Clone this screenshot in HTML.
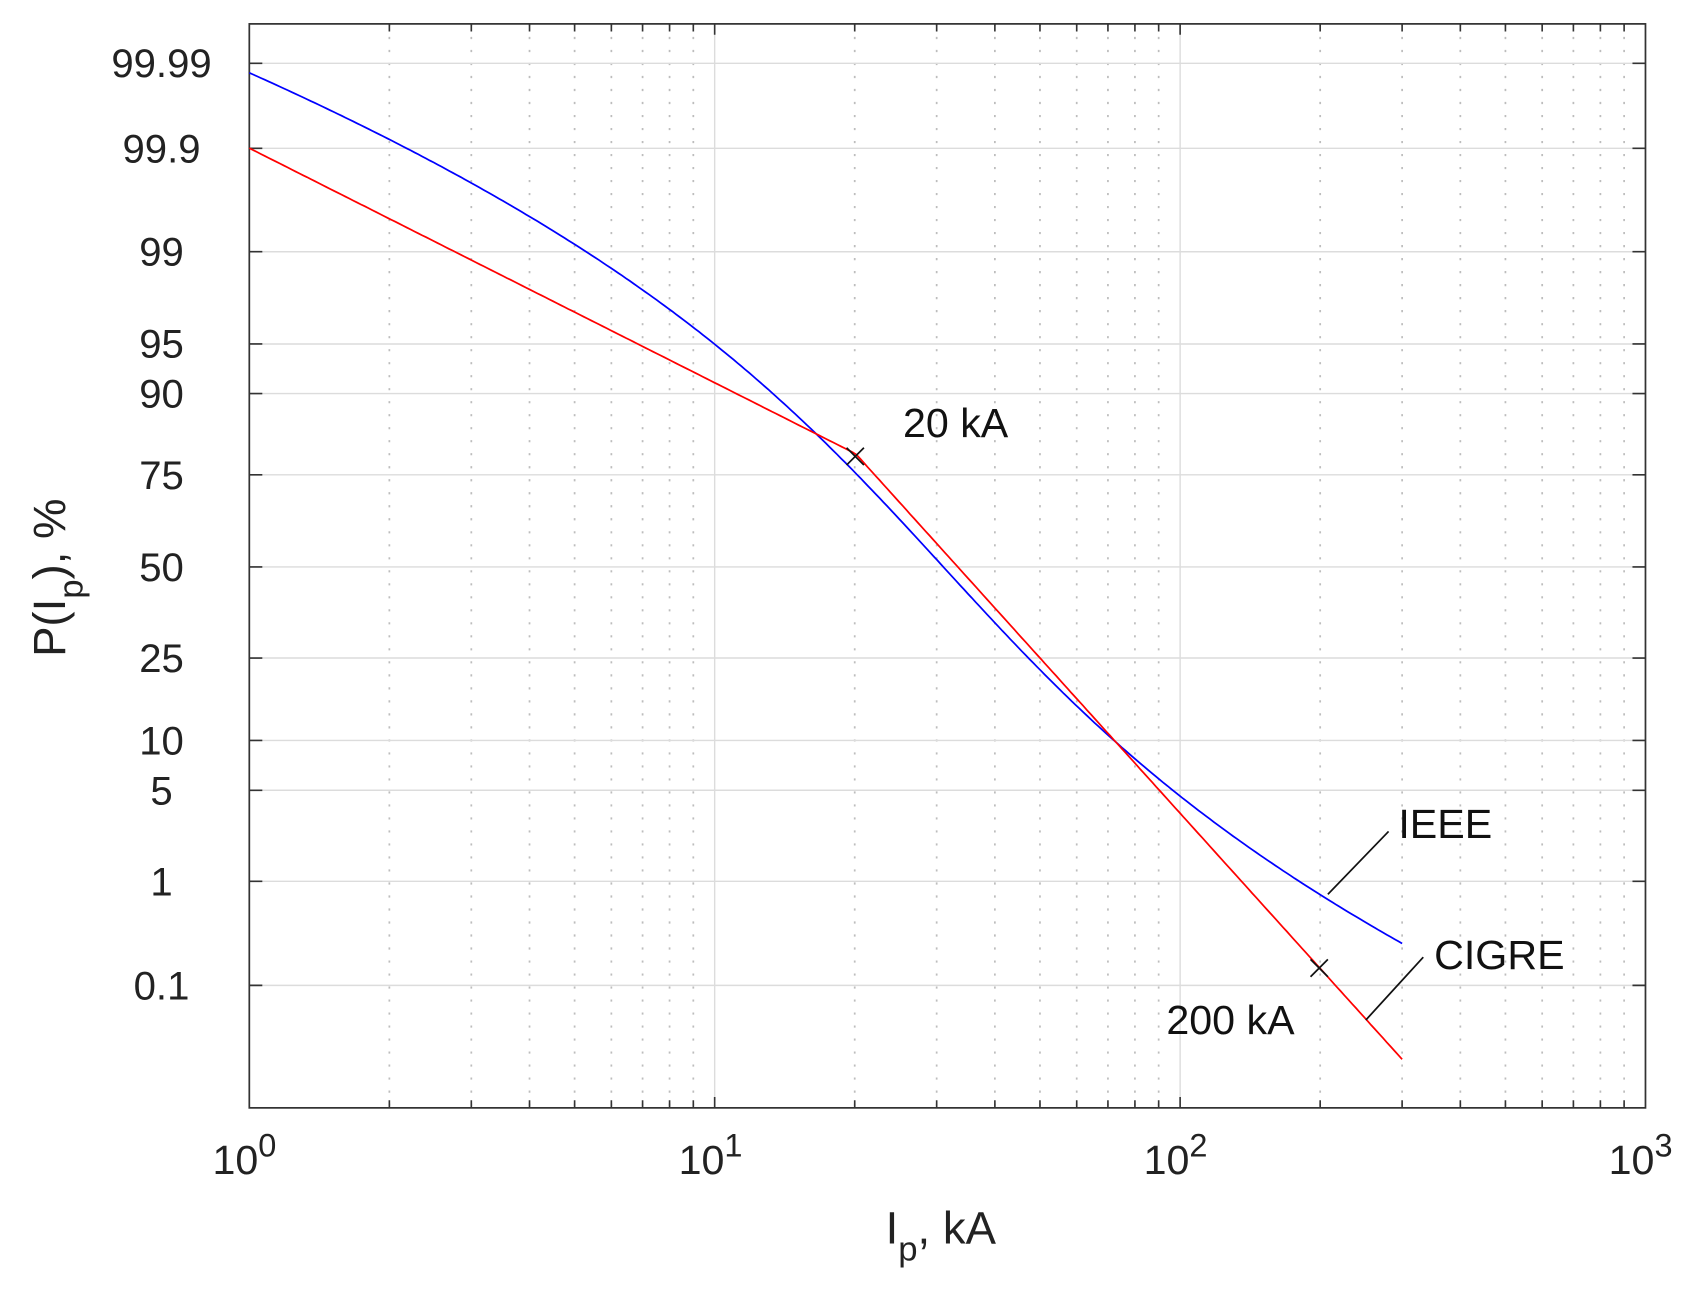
<!DOCTYPE html>
<html><head><meta charset="utf-8"><style>html,body{margin:0;padding:0;background:#fff}svg{display:block}</style></head>
<body>
<svg width="1700" height="1295" viewBox="0 0 1568.3 1194.6" xmlns="http://www.w3.org/2000/svg" font-family="Liberation Sans, sans-serif">
<rect width="1568.3" height="1194.6" fill="#fff"/>
<g stroke="#bdbdbd" stroke-width="1.6" stroke-dasharray="2 10">
<path d="M359.2 22V1022M434.8 22V1022M488.5 22V1022M530.1 22V1022M564 22V1022M592.8 22V1022M617.7 22V1022M639.6 22V1022
M788.5 22V1022M864.1 22V1022M917.8 22V1022M959.4 22V1022M993.3 22V1022M1022.1 22V1022M1047 22V1022M1068.9 22V1022
M1217.9 22V1022M1293.5 22V1022M1347.2 22V1022M1388.8 22V1022M1422.7 22V1022M1451.5 22V1022M1476.4 22V1022M1498.3 22V1022"/>
</g>
<g stroke="#dcdcdc" stroke-width="1.3">
<path d="M659.3 22V1022M1088.7 22V1022"/>
<path d="M230 58.4H1518M230 136.8H1518M230 232.2H1518M230 317.3H1518M230 363H1518M230 438H1518M230 523H1518M230 607H1518M230 683H1518M230 729H1518M230 813H1518M230 909H1518"/>
</g>
<g stroke="#333" stroke-width="1.5">
<path d="M359.2 1022v-7M434.8 1022v-7M488.5 1022v-7M530.1 1022v-7M564 1022v-7M592.8 1022v-7M617.7 1022v-7M639.6 1022v-7M659.3 1022v-10
M788.5 1022v-7M864.1 1022v-7M917.8 1022v-7M959.4 1022v-7M993.3 1022v-7M1022.1 1022v-7M1047 1022v-7M1068.9 1022v-7M1088.7 1022v-10
M1217.9 1022v-7M1293.5 1022v-7M1347.2 1022v-7M1388.8 1022v-7M1422.7 1022v-7M1451.5 1022v-7M1476.4 1022v-7M1498.3 1022v-7"/>
<path d="M359.2 22v7M434.8 22v7M488.5 22v7M530.1 22v7M564 22v7M592.8 22v7M617.7 22v7M639.6 22v7M659.3 22v10
M788.5 22v7M864.1 22v7M917.8 22v7M959.4 22v7M993.3 22v7M1022.1 22v7M1047 22v7M1068.9 22v7M1088.7 22v10
M1217.9 22v7M1293.5 22v7M1347.2 22v7M1388.8 22v7M1422.7 22v7M1451.5 22v7M1476.4 22v7M1498.3 22v7"/>
<path d="M230 58.4h12M230 136.8h12M230 232.2h12M230 317.3h12M230 363h12M230 438h12M230 523h12M230 607h12M230 683h12M230 729h12M230 813h12M230 909h12"/>
<path d="M1518 58.4h-12M1518 136.8h-12M1518 232.2h-12M1518 317.3h-12M1518 363h-12M1518 438h-12M1518 523h-12M1518 607h-12M1518 683h-12M1518 729h-12M1518 813h-12M1518 909h-12"/>
</g>
<rect x="230" y="22" width="1288" height="1000" fill="none" stroke="#333" stroke-width="1.6"/>
<polyline id="blue" fill="none" stroke="#0000ff" stroke-width="1.6" points="230,68 1293,869"/>
<polyline id="red" fill="none" stroke="#ff0000" stroke-width="1.6" points="230,136.8 788,418 1293,976"/>
<g stroke="#111" stroke-width="1.6" fill="none">
<path d="M781 413l16 16M797 413l-16 16"/>
<path d="M1209 885l16 16M1225 885l-16 16"/>
<path d="M1225 825L1281 767"/>
<path d="M1260 941L1313 883"/>
</g>
<g font-size="38" fill="#111">
<text x="833" y="403">20 kA</text>
<text x="1076" y="954">200 kA</text>
<text x="1290" y="773">IEEE</text>
<text x="1323" y="894">CIGRE</text>
</g>
<g font-size="37" fill="#222" text-anchor="middle">
<text x="149" y="71">99.99</text>
<text x="149" y="150">99.9</text>
<text x="149" y="245">99</text>
<text x="149" y="330">95</text>
<text x="149" y="376">90</text>
<text x="149" y="451">75</text>
<text x="149" y="536">50</text>
<text x="149" y="620">25</text>
<text x="149" y="696">10</text>
<text x="149" y="742">5</text>
<text x="149" y="826">1</text>
<text x="149" y="922">0.1</text>
</g>
<g font-size="38" fill="#222">
<text x="196" y="1083">10<tspan font-size="30" dy="-16">0</tspan></text>
<text x="626" y="1083">10<tspan font-size="30" dy="-16">1</tspan></text>
<text x="1055" y="1083">10<tspan font-size="30" dy="-16">2</tspan></text>
<text x="1484" y="1083">10<tspan font-size="30" dy="-16">3</tspan></text>
</g>
<text x="817" y="1147" font-size="42" fill="#222">I<tspan font-size="32" dy="16">p</tspan><tspan dy="-16">, kA</tspan></text>
<text transform="translate(60,606) rotate(-90)" font-size="42" fill="#222">P(I<tspan font-size="32" dy="16">p</tspan><tspan dy="-16">), %</tspan></text>
<script>
(function(){
function ninv(p){var a=[-39.6968302866538,220.946098424521,-275.928510446969,138.357751867269,-30.6647980661472,2.50662827745924],
b=[-54.4760987982241,161.585836858041,-155.698979859887,66.8013118877197,-13.2806815528857],
c=[-0.00778489400243029,-0.322396458041136,-2.40075827716184,-2.54973253934373,4.37466414146497,2.93816398269878],
d=[0.00778469570904146,0.32246712907004,2.445134137143,3.75440866190742],q,r;
if(p<0.02425){q=Math.sqrt(-2*Math.log(p));return (((((c[0]*q+c[1])*q+c[2])*q+c[3])*q+c[4])*q+c[5])/((((d[0]*q+d[1])*q+d[2])*q+d[3])*q+1);}
if(p>1-0.02425){q=Math.sqrt(-2*Math.log(1-p));return -(((((c[0]*q+c[1])*q+c[2])*q+c[3])*q+c[4])*q+c[5])/((((d[0]*q+d[1])*q+d[2])*q+d[3])*q+1);}
q=p-0.5;r=q*q;return (((((a[0]*r+a[1])*r+a[2])*r+a[3])*r+a[4])*r+a[5])*q/(((((b[0]*r+b[1])*r+b[2])*r+b[3])*r+b[4])*r+1);}
function X(I){return 230+429.33*Math.log10(I);}
var bp=[],rp=[];
for(var i=0;i<=300;i++){var lg=i/300*Math.log10(300),I=Math.pow(10,lg);
var u=Math.pow(I/31,2.6),q=u/(1+u),z=-ninv(q);bp.push(X(I).toFixed(1)+','+(523-125*z).toFixed(1));
var zr=I<=20?-Math.log(I/61)/1.33:-Math.log(I/33.3)/0.605;rp.push(X(I).toFixed(1)+','+(523-125*zr).toFixed(1));}
document.getElementById('blue').setAttribute('points',bp.join(' '));
document.getElementById('red').setAttribute('points',rp.join(' '));
})();
</script>
</svg>
</body></html>
